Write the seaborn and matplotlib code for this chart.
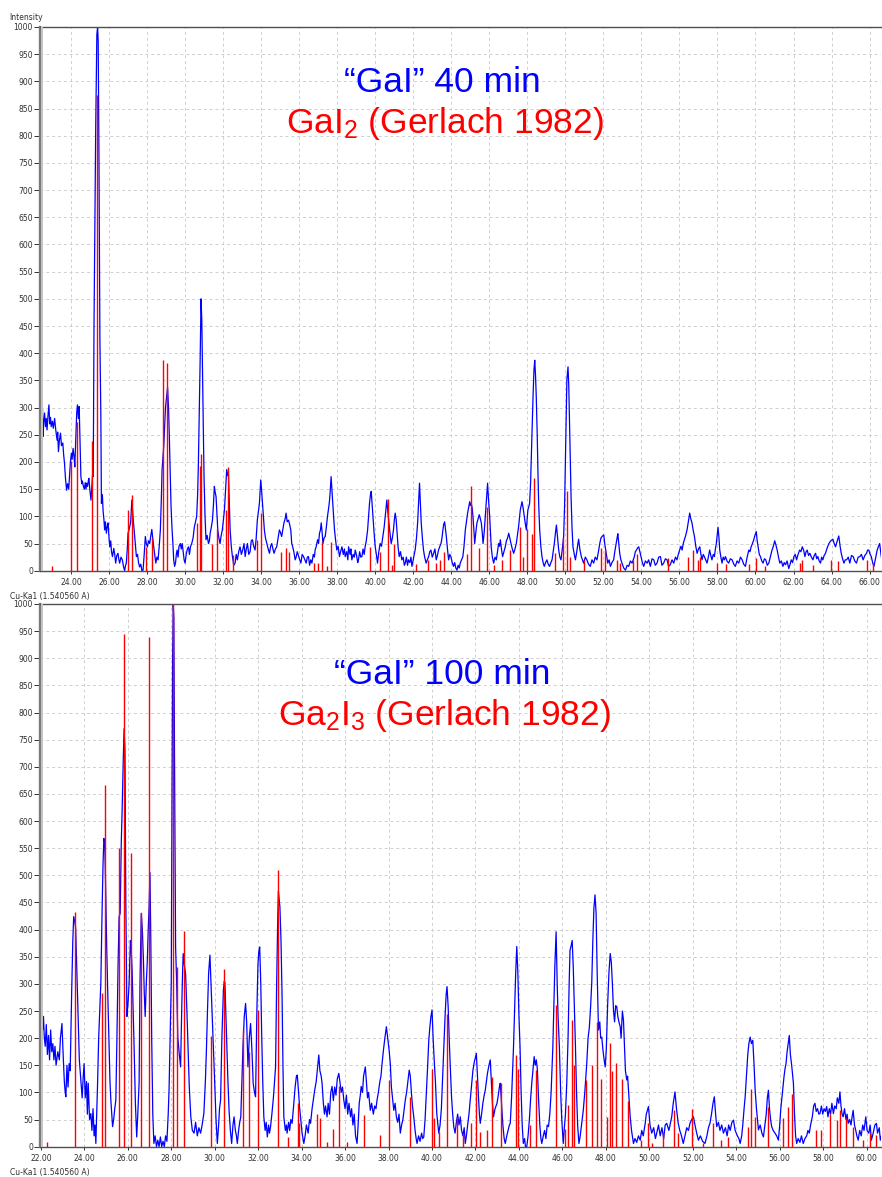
import numpy as np
import pandas as pd
import matplotlib
matplotlib.use("Agg")
import matplotlib.pyplot as plt
from matplotlib.patches import Rectangle
import seaborn as sns

sns.set_style("white")
plt.rcParams["font.family"] = ["DejaVu Sans"]
plt.rcParams["mathtext.fontset"] = "custom"
plt.rcParams["mathtext.rm"] = "Liberation Sans"
plt.rcParams["mathtext.default"] = "regular"

# ---------------------------------------------------------------------------
# Measured powder pattern, "GaI" after 40 min: (2-theta, counts)
# ---------------------------------------------------------------------------
scan40_a = [(22.38, 300), (22.40, 320), (22.45, 290), (22.50, 300), (22.53, 247), (22.57, 275),
            (22.61, 290), (22.66, 265), (22.70, 280), (22.74, 259), (22.79, 285), (22.84, 305),
            (22.88, 270), (22.92, 282), (22.96, 265), (23.02, 275), (23.07, 262), (23.14, 280),
            (23.18, 265), (23.22, 253), (23.27, 240), (23.30, 255), (23.34, 219), (23.39, 240),
            (23.45, 253), (23.50, 230), (23.57, 235), (23.61, 215), (23.66, 197), (23.71, 170),
            (23.77, 148), (23.82, 160), (23.88, 150), (23.93, 179), (23.97, 200), (24.02, 216),
            (24.06, 205), (24.11, 225), (24.16, 210), (24.20, 191), (24.25, 240), (24.30, 290),
            (24.34, 305), (24.39, 280), (24.43, 302), (24.48, 230), (24.52, 173), (24.57, 160),
            (24.60, 165), (24.64, 157), (24.70, 150), (24.75, 162), (24.79, 150), (24.82, 161),
            (24.87, 155), (24.91, 165), (24.94, 170), (24.99, 150), (25.05, 130), (25.09, 150),
            (25.13, 175), (25.17, 173), (25.21, 449), (25.26, 643), (25.30, 815), (25.36, 986),
            (25.40, 1000), (25.43, 974), (25.47, 766), (25.52, 425), (25.57, 284), (25.60, 124),
            (25.65, 140), (25.69, 109), (25.73, 95), (25.77, 75), (25.81, 90), (25.86, 69),
            (25.90, 80), (25.95, 88), (26.00, 60)]

scan40_b = [(26.04, 44), (26.09, 55), (26.13, 35), (26.18, 26), (26.25, 41), (26.30, 30),
            (26.35, 14), (26.41, 28), (26.47, 32), (26.52, 20), (26.56, 14), (26.63, 25),
            (26.70, 20), (26.76, 8), (26.82, 0), (26.87, 10), (26.91, 14), (26.96, 40),
            (27.00, 69), (27.05, 75), (27.09, 81), (27.14, 90), (27.20, 130), (27.23, 115),
            (27.26, 100), (27.31, 80), (27.35, 63), (27.40, 45), (27.44, 26), (27.50, 30),
            (27.55, 15), (27.61, 7), (27.67, 12), (27.73, 0), (27.79, 1), (27.85, 30),
            (27.91, 63), (27.96, 50), (28.02, 44), (28.08, 55), (28.14, 50), (28.20, 65),
            (28.25, 76), (28.30, 60), (28.35, 44), (28.40, 30), (28.46, 14), (28.52, 25),
            (28.58, 20), (28.64, 45), (28.70, 75), (28.75, 130), (28.79, 186), (28.84, 210),
            (28.88, 230), (28.93, 270), (28.97, 300), (29.03, 320), (29.08, 337), (29.13, 300),
            (29.17, 250), (29.21, 190), (29.26, 120), (29.31, 80), (29.36, 50), (29.40, 20),
            (29.45, 8), (29.50, 15), (29.54, 30), (29.58, 38), (29.63, 25), (29.68, 45),
            (29.75, 50), (29.80, 40), (29.85, 50), (29.89, 38), (29.95, 20), (30.00, 14),
            (30.06, 30), (30.12, 40), (30.18, 44), (30.23, 30), (30.29, 45), (30.35, 50),
            (30.42, 60), (30.49, 81), (30.55, 90), (30.61, 100), (30.66, 140), (30.70, 197),
            (30.75, 300), (30.79, 382), (30.84, 500), (30.88, 460), (30.91, 382), (30.96, 260),
            (31.00, 167), (31.05, 100), (31.10, 57)]

scan40_c = [(31.16, 65), (31.23, 50), (31.28, 55), (31.32, 69), (31.38, 80), (31.44, 93),
            (31.49, 120), (31.54, 155), (31.58, 145), (31.63, 136), (31.68, 100), (31.72, 75),
            (31.78, 60), (31.84, 50), (31.90, 65), (31.96, 75), (32.02, 95), (32.07, 112),
            (32.13, 150), (32.19, 186), (32.24, 175), (32.28, 180), (32.33, 120), (32.37, 75),
            (32.43, 45), (32.49, 26), (32.56, 10), (32.63, 14), (32.69, 30), (32.75, 20),
            (32.82, 35), (32.89, 44), (32.96, 30), (33.03, 38), (33.10, 50), (33.16, 26),
            (33.22, 40), (33.28, 50), (33.35, 30), (33.42, 35), (33.48, 55), (33.54, 57),
            (33.61, 45), (33.68, 38), (33.74, 60), (33.80, 93), (33.86, 110), (33.91, 124),
            (33.98, 167), (34.02, 150), (34.07, 124), (34.12, 100), (34.17, 75), (34.23, 60),
            (34.30, 50), (34.37, 40), (34.44, 32), (34.50, 45), (34.56, 50), (34.62, 40),
            (34.68, 32), (34.75, 40), (34.82, 44), (34.89, 60), (34.96, 75), (35.02, 70),
            (35.08, 63), (35.14, 75), (35.20, 88), (35.26, 95), (35.31, 106), (35.37, 90),
            (35.44, 93), (35.50, 85), (35.56, 75), (35.61, 50), (35.66, 44), (35.72, 35),
            (35.79, 20), (35.84, 25), (35.90, 35), (35.96, 28)]

scan40_d = [(36.03, 20), (36.09, 14), (36.16, 30), (36.23, 26), (36.30, 20), (36.37, 14),
            (36.43, 25), (36.49, 26), (36.55, 10), (36.61, 20), (36.67, 14), (36.74, 30),
            (36.80, 25), (36.84, 38), (36.90, 45), (36.97, 57), (37.02, 50), (37.07, 69),
            (37.12, 75), (37.16, 88), (37.21, 70), (37.25, 50), (37.31, 60), (37.37, 63),
            (37.43, 80), (37.49, 100), (37.55, 115), (37.60, 130), (37.64, 150), (37.68, 173),
            (37.72, 150), (37.77, 118), (37.82, 95), (37.86, 75), (37.92, 55), (37.98, 38),
            (38.05, 45), (38.12, 26), (38.18, 35), (38.25, 44), (38.32, 30), (38.38, 40),
            (38.42, 26), (38.50, 35), (38.56, 20), (38.60, 44), (38.68, 30), (38.72, 40),
            (38.77, 20), (38.84, 30), (38.90, 25), (38.95, 38), (39.02, 28), (39.08, 15),
            (39.12, 20), (39.18, 35), (39.24, 25), (39.30, 26), (39.36, 40), (39.42, 30),
            (39.47, 44), (39.53, 55), (39.60, 75), (39.65, 100), (39.70, 124), (39.75, 140),
            (39.79, 146), (39.84, 120), (39.88, 100), (39.94, 70), (40.00, 44), (40.06, 30),
            (40.12, 14), (40.19, 35), (40.26, 50), (40.33, 45), (40.40, 63), (40.47, 80),
            (40.53, 100), (40.57, 115), (40.61, 130), (40.66, 110), (40.70, 95), (40.74, 81),
            (40.79, 65), (40.84, 50), (40.90, 60), (40.96, 75), (41.01, 95), (41.05, 106),
            (41.10, 95), (41.14, 75), (41.20, 45), (41.26, 26), (41.33, 35), (41.40, 20),
            (41.47, 25), (41.53, 10), (41.58, 14), (41.64, 25), (41.70, 10), (41.75, 20),
            (41.82, 15), (41.88, 25), (41.93, 8), (42.00, 20), (42.05, 30), (42.10, 38),
            (42.17, 60), (42.23, 88), (42.28, 125), (42.33, 161), (42.38, 120), (42.42, 88),
            (42.48, 60), (42.54, 38), (42.60, 25), (42.68, 14), (42.74, 20), (42.81, 26),
            (42.87, 35), (42.93, 38), (43.00, 25), (43.07, 32), (43.14, 40), (43.21, 20),
            (43.27, 28), (43.33, 38), (43.40, 45), (43.46, 50), (43.51, 60), (43.56, 75),
            (43.60, 85), (43.65, 90), (43.70, 75), (43.74, 63), (43.80, 40), (43.86, 20),
            (43.92, 30), (43.98, 26)]

scan40_e = [(44.05, 15), (44.12, 8), (44.18, 15), (44.24, 5), (44.30, 1), (44.36, 10),
            (44.42, 5), (44.47, 14), (44.54, 20), (44.61, 26), (44.67, 45), (44.74, 75),
            (44.80, 90), (44.86, 106), (44.92, 118), (44.97, 127), (45.01, 120), (45.05, 124),
            (45.10, 115), (45.14, 100), (45.19, 75), (45.23, 50), (45.29, 70), (45.35, 88),
            (45.41, 95), (45.47, 103), (45.52, 97), (45.58, 88), (45.63, 70), (45.67, 50),
            (45.73, 70), (45.79, 100), (45.85, 130), (45.91, 161), (45.96, 130), (46.02, 100),
            (46.06, 70), (46.10, 44), (46.16, 25), (46.23, 14), (46.30, 25), (46.37, 20),
            (46.43, 35), (46.49, 50), (46.54, 45), (46.58, 57), (46.64, 40), (46.70, 26),
            (46.77, 35), (46.84, 44), (46.90, 55), (46.96, 60), (47.02, 69), (47.08, 60),
            (47.14, 50), (47.21, 40), (47.28, 32), (47.35, 40), (47.42, 50), (47.48, 65),
            (47.54, 81), (47.58, 95), (47.63, 112), (47.68, 120), (47.72, 127), (47.78, 115),
            (47.84, 100), (47.90, 85), (47.95, 75), (47.99, 95), (48.03, 112), (48.08, 118),
            (48.12, 124), (48.17, 160), (48.21, 210), (48.26, 270), (48.30, 320), (48.35, 370),
            (48.39, 387), (48.43, 360), (48.47, 320), (48.52, 250), (48.56, 179), (48.60, 120),
            (48.65, 75), (48.71, 45), (48.77, 26), (48.83, 15), (48.89, 8), (48.96, 15),
            (49.03, 20), (49.10, 12), (49.17, 8), (49.24, 15), (49.30, 20), (49.36, 35),
            (49.42, 50), (49.48, 70), (49.53, 84), (49.59, 60), (49.65, 38), (49.71, 25),
            (49.77, 20), (49.84, 40), (49.91, 63), (49.96, 120), (50.00, 197), (50.04, 280),
            (50.08, 351), (50.14, 375), (50.18, 340), (50.21, 290), (50.26, 210), (50.30, 136),
            (50.35, 80), (50.40, 44), (50.47, 30), (50.53, 20), (50.60, 35), (50.66, 50),
            (50.70, 58), (50.76, 40), (50.84, 26), (50.90, 20), (50.96, 14)]

scan40_f = [(51.05, 25), (51.13, 20), (51.22, 12), (51.31, 8), (51.40, 20), (51.49, 14),
            (51.57, 25), (51.66, 20), (51.74, 35), (51.81, 50), (51.87, 60), (51.93, 63),
            (52.02, 66), (52.07, 50), (52.12, 38), (52.18, 25), (52.23, 14), (52.30, 20),
            (52.37, 8), (52.45, 15), (52.54, 20), (52.60, 35), (52.67, 50), (52.72, 60),
            (52.76, 68), (52.81, 50), (52.86, 32), (52.92, 20), (52.98, 14), (53.07, 5),
            (53.16, 1), (53.25, 10), (53.33, 8), (53.42, 18), (53.51, 14), (53.57, 20),
            (53.63, 26), (53.68, 35), (53.74, 38), (53.80, 42), (53.86, 44), (53.92, 35),
            (53.98, 26), (54.05, 15), (54.12, 8), (54.21, 18), (54.30, 14), (54.38, 20),
            (54.47, 8), (54.56, 22), (54.65, 20), (54.73, 10), (54.82, 14), (54.91, 25),
            (55.00, 26), (55.08, 10), (55.17, 14), (55.26, 22), (55.35, 20), (55.43, 8),
            (55.52, 11), (55.61, 20), (55.70, 14), (55.79, 25), (55.87, 20), (55.94, 30),
            (56.01, 38), (56.08, 45), (56.14, 38), (56.20, 50), (56.26, 57), (56.33, 65),
            (56.40, 75), (56.47, 90), (56.54, 106), (56.60, 95), (56.66, 88), (56.72, 75),
            (56.79, 63), (56.86, 45), (56.93, 32), (57.00, 40), (57.07, 44), (57.13, 30),
            (57.19, 20), (57.25, 30), (57.31, 26), (57.38, 20), (57.45, 14), (57.52, 25),
            (57.59, 38), (57.65, 28), (57.71, 20), (57.78, 30), (57.84, 26), (57.89, 40),
            (57.94, 50), (58.03, 80), (58.08, 60), (58.12, 38), (58.18, 25), (58.24, 14),
            (58.30, 25), (58.36, 20), (58.42, 26), (58.50, 18)]

scan40_g = [(58.59, 14), (58.68, 22), (58.77, 20), (58.86, 12), (58.94, 8), (59.03, 18),
            (59.12, 14), (59.21, 25), (59.30, 20), (59.38, 12), (59.47, 8), (59.56, 25),
            (59.65, 38), (59.71, 35), (59.77, 44), (59.84, 50), (59.91, 57), (59.97, 65),
            (60.04, 72), (60.09, 55), (60.14, 44), (60.20, 30), (60.26, 26), (60.33, 18),
            (60.40, 14), (60.47, 22), (60.54, 20), (60.62, 10), (60.70, 14), (60.78, 25),
            (60.87, 38), (60.94, 45), (61.01, 55), (61.07, 48), (61.14, 38), (61.21, 25),
            (61.28, 14), (61.36, 18), (61.44, 8), (61.51, 15), (61.58, 11), (61.66, 18),
            (61.75, 4), (61.82, 12), (61.88, 20), (61.95, 15), (62.02, 26), (62.09, 30),
            (62.16, 20), (62.24, 30), (62.32, 38), (62.39, 35), (62.46, 44), (62.53, 38),
            (62.60, 26), (62.66, 35), (62.72, 38), (62.79, 28), (62.86, 32), (62.94, 25),
            (63.02, 20), (63.09, 28), (63.16, 32), (63.22, 22), (63.28, 26), (63.35, 18),
            (63.42, 14), (63.48, 25), (63.54, 20), (63.61, 28), (63.68, 32), (63.77, 42),
            (63.86, 50), (63.96, 55), (64.07, 58), (64.14, 50), (64.21, 44), (64.30, 55),
            (64.38, 64), (64.45, 45), (64.51, 32), (64.58, 22), (64.65, 14), (64.72, 20),
            (64.79, 20), (64.88, 25), (64.96, 14), (65.05, 28), (65.14, 26), (65.22, 18),
            (65.31, 14), (65.40, 25), (65.49, 26), (65.57, 30), (65.66, 20), (65.75, 28),
            (65.84, 32), (65.90, 38), (65.96, 38), (66.03, 30), (66.09, 26), (66.16, 15),
            (66.23, 8), (66.31, 22), (66.40, 38), (66.47, 45), (66.53, 50), (66.60, 30),
            (66.67, 14)]

# Reference line pattern of GaI2 (Gerlach 1982): (2-theta, relative intensity)
gai2_lines = [(22.98, 9), (24.00, 201), (24.30, 274), (25.09, 238), (25.35, 875), (27.00, 112),
              (27.20, 139), (27.95, 44), (28.25, 60), (28.86, 388), (29.07, 382), (30.61, 87),
              (30.79, 192), (30.86, 215), (31.44, 50), (31.67, 77), (32.15, 112), (32.24, 190),
              (32.50, 29), (33.80, 57), (34.00, 107), (35.05, 35), (35.31, 41), (35.49, 35),
              (36.79, 14), (37.00, 14), (37.20, 53), (37.46, 8), (37.67, 52), (39.74, 44),
              (40.23, 35), (40.65, 131), (40.88, 11), (41.00, 50), (42.16, 12), (42.80, 20),
              (43.20, 14), (43.40, 20), (43.63, 35), (44.83, 31), (45.04, 156), (45.44, 41),
              (45.88, 118), (46.23, 11), (46.67, 20), (47.07, 38), (47.63, 81), (47.77, 25),
              (47.98, 77), (48.24, 68), (48.37, 171), (49.47, 32), (49.90, 60), (50.07, 147),
              (50.25, 25), (50.98, 20), (51.88, 41), (52.10, 38), (52.69, 20), (52.86, 14),
              (53.57, 20), (53.77, 31), (55.38, 23), (56.44, 25), (56.70, 38), (56.97, 20),
              (57.10, 25), (58.00, 14), (58.45, 13), (59.64, 12), (60.05, 23), (60.49, 8),
              (62.33, 14), (62.47, 20), (63.02, 11), (63.95, 20), (64.33, 17), (65.88, 20),
              (66.20, 14)]

# ---------------------------------------------------------------------------
# Measured powder pattern, "GaI" after 100 min: (2-theta, counts)
# ---------------------------------------------------------------------------
scan100_a = [(21.97, 380), (21.99, 378), (22.01, 290), (22.04, 250), (22.08, 215), (22.12, 240),
             (22.16, 200), (22.20, 185), (22.25, 225), (22.30, 170), (22.35, 205), (22.40, 160),
             (22.45, 215), (22.50, 175), (22.55, 190), (22.60, 160), (22.65, 185), (22.70, 150),
             (22.78, 175), (22.85, 160), (22.90, 200), (22.97, 227), (23.03, 165), (23.08, 120),
             (23.12, 100), (23.15, 92), (23.20, 150), (23.25, 110), (23.30, 153), (23.35, 140),
             (23.42, 290), (23.47, 380), (23.51, 424), (23.56, 415), (23.60, 403), (23.65, 330),
             (23.71, 240), (23.77, 160), (23.84, 123), (23.90, 90), (23.95, 130), (23.99, 153),
             (24.04, 90), (24.10, 120), (24.14, 60), (24.18, 117), (24.24, 50), (24.30, 61),
             (24.35, 30), (24.40, 70), (24.45, 20), (24.49, 40), (24.53, 6), (24.57, 60),
             (24.61, 117), (24.66, 200), (24.71, 250), (24.76, 302), (24.81, 420), (24.86, 520),
             (24.90, 568), (24.94, 560), (24.98, 480), (25.03, 368), (25.08, 280), (25.14, 184),
             (25.18, 120), (25.22, 86), (25.26, 60), (25.30, 37), (25.35, 50), (25.40, 70),
             (25.45, 86), (25.50, 200), (25.55, 330), (25.60, 424), (25.65, 430), (25.70, 560),
             (25.74, 620), (25.79, 710), (25.83, 770), (25.87, 730), (25.91, 450), (25.96, 240),
             (26.01, 264), (26.06, 300), (26.12, 380), (26.16, 360), (26.20, 324), (26.25, 250),
             (26.29, 184), (26.35, 80), (26.41, 18), (26.46, 60), (26.52, 117), (26.56, 300),
             (26.62, 430), (26.67, 400), (26.72, 344), (26.76, 280), (26.80, 240), (26.85, 300),
             (26.90, 344), (26.94, 400), (26.98, 442), (27.02, 505), (27.06, 380), (27.10, 200),
             (27.15, 60), (27.20, 6), (27.26, 20), (27.32, 0), (27.38, 12), (27.44, 0),
             (27.50, 18), (27.56, 0), (27.62, 10), (27.68, 0), (27.74, 20), (27.80, 10),
             (27.86, 60), (27.90, 107), (27.95, 200), (28.00, 302), (28.03, 600), (28.06, 885),
             (28.09, 1000), (28.12, 975), (28.15, 722), (28.20, 368), (28.25, 300), (28.30, 202),
             (28.36, 175), (28.43, 147), (28.48, 250), (28.52, 320), (28.55, 356), (28.60, 335),
             (28.66, 319), (28.72, 250), (28.77, 184), (28.83, 110), (28.90, 55), (28.97, 30)]

scan100_b = [(29.05, 25), (29.12, 45), (29.20, 20), (29.27, 35), (29.35, 25), (29.42, 40),
             (29.50, 61), (29.57, 120), (29.62, 180), (29.66, 240), (29.72, 320), (29.78, 353),
             (29.83, 300), (29.89, 240), (29.95, 170), (30.00, 117), (30.06, 50), (30.12, 6),
             (30.18, 40), (30.22, 70), (30.27, 86), (30.33, 200), (30.40, 289), (30.44, 305),
             (30.47, 302), (30.51, 250), (30.55, 202), (30.60, 130), (30.66, 67), (30.72, 30),
             (30.78, 6), (30.84, 40), (30.89, 55), (30.95, 30), (31.00, 20), (31.04, 6),
             (31.10, 30), (31.15, 45), (31.20, 55), (31.25, 120), (31.30, 184), (31.36, 240),
             (31.42, 264), (31.47, 230), (31.53, 147), (31.59, 200), (31.65, 227), (31.71, 180),
             (31.77, 117), (31.83, 100), (31.88, 92), (31.94, 250), (31.99, 336), (32.03, 360),
             (32.07, 368), (32.12, 300), (32.16, 209), (32.21, 120), (32.26, 55), (32.32, 30),
             (32.37, 45), (32.42, 18), (32.48, 40), (32.52, 25), (32.57, 37), (32.63, 60),
             (32.70, 90), (32.75, 120), (32.80, 147), (32.85, 300), (32.90, 420), (32.93, 471),
             (32.97, 455), (33.00, 442), (33.05, 380), (33.10, 276), (33.14, 150), (33.18, 55),
             (33.25, 30), (33.30, 40), (33.33, 25), (33.40, 45), (33.45, 30), (33.50, 50),
             (33.56, 43), (33.62, 70), (33.70, 110), (33.76, 130), (33.80, 132), (33.86, 100),
             (33.90, 75), (33.95, 55), (34.02, 25), (34.10, 6), (34.16, 20), (34.22, 40),
             (34.30, 25), (34.36, 50), (34.41, 43), (34.48, 70), (34.55, 90), (34.60, 104),
             (34.67, 120), (34.72, 140), (34.79, 169), (34.84, 140), (34.90, 130), (34.94, 117),
             (35.00, 80), (35.05, 60), (35.10, 75), (35.17, 55), (35.22, 80), (35.28, 60),
             (35.34, 100), (35.40, 111), (35.46, 85), (35.52, 110), (35.58, 95), (35.64, 125),
             (35.71, 135), (35.76, 120), (35.82, 100), (35.88, 110), (35.94, 86)]

scan100_c = [(36.00, 70), (36.06, 95), (36.12, 60), (36.18, 80), (36.25, 55), (36.30, 70),
             (36.36, 40), (36.42, 60), (36.48, 20), (36.55, 6), (36.60, 40), (36.65, 80),
             (36.70, 95), (36.74, 111), (36.80, 100), (36.85, 130), (36.93, 147), (36.98, 120),
             (37.03, 90), (37.08, 100), (37.16, 67), (37.22, 80), (37.30, 60), (37.36, 75),
             (37.42, 70), (37.47, 86), (37.53, 100), (37.60, 120), (37.65, 130), (37.70, 153),
             (37.77, 180), (37.83, 200), (37.90, 221), (37.96, 200), (38.02, 180), (38.08, 153),
             (38.13, 110), (38.18, 90), (38.24, 67), (38.30, 80), (38.36, 55), (38.42, 45),
             (38.48, 60), (38.54, 25), (38.60, 40), (38.66, 50), (38.72, 70), (38.77, 86),
             (38.83, 100), (38.89, 120), (38.95, 141), (39.00, 130), (39.05, 100), (39.10, 75),
             (39.16, 55), (39.22, 30), (39.27, 15), (39.31, 6), (39.38, 20), (39.45, 10),
             (39.52, 25), (39.57, 15), (39.62, 18), (39.68, 50), (39.74, 100), (39.80, 150),
             (39.85, 196), (39.90, 220), (39.95, 240), (40.00, 252), (40.05, 200), (40.10, 160),
             (40.16, 117), (40.22, 60), (40.27, 40), (40.31, 25), (40.37, 40), (40.43, 70),
             (40.48, 120), (40.54, 184), (40.60, 240), (40.65, 280), (40.69, 295), (40.74, 260),
             (40.79, 200), (40.84, 147), (40.90, 90), (40.95, 60), (41.00, 37), (41.06, 25),
             (41.12, 45), (41.18, 60), (41.24, 40), (41.30, 55), (41.36, 30), (41.42, 20),
             (41.48, 35), (41.53, 6), (41.58, 20), (41.64, 40), (41.70, 60), (41.76, 86),
             (41.82, 110), (41.88, 140), (41.94, 155), (42.00, 165), (42.04, 172), (42.09, 130),
             (42.14, 90), (42.18, 60), (42.22, 43), (42.28, 60), (42.34, 80), (42.40, 95),
             (42.45, 104), (42.50, 120), (42.55, 135), (42.62, 150), (42.68, 160), (42.73, 120),
             (42.78, 80), (42.83, 55), (42.90, 70), (42.99, 80), (43.05, 95), (43.10, 110),
             (43.14, 117), (43.20, 80), (43.26, 40), (43.32, 15), (43.37, 6), (43.44, 20),
             (43.50, 30), (43.56, 40), (43.60, 43)]

scan100_d = [(43.66, 90), (43.71, 140), (43.75, 184), (43.80, 250), (43.85, 320), (43.90, 369),
             (43.95, 320), (44.00, 240), (44.05, 184), (44.10, 100), (44.15, 40), (44.20, 6),
             (44.26, 15), (44.30, 0), (44.36, 0), (44.42, 20), (44.48, 50), (44.54, 90),
             (44.59, 117), (44.64, 140), (44.70, 166), (44.75, 150), (44.80, 160), (44.85, 141),
             (44.90, 90), (44.96, 40), (45.01, 15), (45.05, 6), (45.12, 20), (45.18, 30),
             (45.24, 15), (45.30, 40), (45.36, 37), (45.42, 60), (45.48, 100), (45.52, 140),
             (45.56, 184), (45.60, 250), (45.65, 330), (45.71, 396), (45.76, 300), (45.80, 240),
             (45.86, 184), (45.92, 100), (45.97, 50), (46.04, 6), (46.08, 30), (46.14, 60),
             (46.20, 117), (46.26, 200), (46.31, 300), (46.35, 362), (46.40, 370), (46.45, 380),
             (46.50, 330), (46.55, 260), (46.60, 184), (46.65, 100), (46.70, 40), (46.76, 6),
             (46.82, 20), (46.88, 40), (46.96, 67), (47.03, 100), (47.08, 130), (47.12, 153),
             (47.18, 200), (47.24, 220), (47.30, 260), (47.35, 302), (47.40, 380), (47.45, 440),
             (47.50, 464), (47.55, 430), (47.60, 320), (47.66, 215), (47.72, 230), (47.76, 200),
             (47.81, 202), (47.86, 180), (47.92, 160), (47.97, 147), (48.02, 180), (48.08, 260),
             (48.14, 320), (48.20, 356), (48.25, 340), (48.30, 300), (48.35, 252), (48.40, 230),
             (48.45, 260), (48.50, 258), (48.55, 240), (48.60, 230), (48.66, 221), (48.70, 200),
             (48.76, 250), (48.81, 233), (48.86, 180), (48.90, 140), (48.96, 123), (49.00, 130),
             (49.05, 100), (49.12, 55), (49.18, 30), (49.27, 6), (49.34, 15), (49.42, 8),
             (49.50, 20), (49.58, 12), (49.65, 30), (49.72, 20), (49.81, 43), (49.86, 60),
             (49.96, 74), (50.03, 40), (50.11, 25), (50.20, 35), (50.28, 15), (50.34, 25),
             (50.42, 40), (50.50, 20), (50.58, 35), (50.66, 15), (50.73, 40), (50.80, 43),
             (50.90, 30), (51.03, 55), (51.10, 80), (51.18, 101), (51.25, 70), (51.33, 43),
             (51.40, 30), (51.48, 20), (51.56, 6), (51.64, 20), (51.72, 35), (51.80, 30),
             (51.87, 43), (51.95, 50)]

scan100_e = [(52.03, 55), (52.10, 40), (52.18, 25), (52.26, 12), (52.35, 20), (52.45, 10),
             (52.56, 6), (52.65, 20), (52.72, 35), (52.79, 43), (52.86, 60), (52.93, 80),
             (52.99, 92), (53.05, 60), (53.10, 37), (53.18, 45), (53.25, 30), (53.33, 40),
             (53.41, 25), (53.50, 35), (53.58, 20), (53.65, 40), (53.72, 30), (53.80, 45),
             (53.87, 49), (53.95, 30), (54.05, 20), (54.12, 15), (54.18, 6), (54.25, 20),
             (54.30, 40), (54.36, 70), (54.41, 92), (54.47, 130), (54.53, 170), (54.58, 190),
             (54.64, 202), (54.70, 190), (54.76, 196), (54.82, 150), (54.87, 104), (54.93, 70),
             (55.02, 31), (55.10, 40), (55.18, 25), (55.25, 18), (55.32, 40), (55.38, 60),
             (55.43, 90), (55.48, 104), (55.53, 70), (55.58, 50), (55.63, 37), (55.70, 30),
             (55.78, 25), (55.86, 20), (55.94, 12), (56.00, 40), (56.05, 70), (56.09, 86),
             (56.15, 110), (56.20, 130), (56.25, 145), (56.29, 153), (56.34, 175), (56.39, 190),
             (56.44, 205), (56.49, 170), (56.55, 150), (56.60, 130), (56.63, 117), (56.68, 60),
             (56.73, 20), (56.78, 6), (56.85, 15), (56.93, 8), (57.00, 20), (57.08, 6),
             (57.16, 15), (57.24, 20), (57.30, 30), (57.36, 25), (57.42, 40), (57.50, 55),
             (57.56, 75), (57.62, 80), (57.68, 65), (57.74, 70), (57.80, 60), (57.85, 61),
             (57.92, 75), (57.98, 60), (58.04, 70), (58.10, 65), (58.16, 74), (58.22, 55),
             (58.28, 70), (58.34, 60), (58.40, 80), (58.47, 61), (58.53, 75), (58.60, 70),
             (58.65, 90), (58.72, 80), (58.77, 101), (58.82, 75), (58.87, 60), (58.92, 55),
             (58.98, 70), (59.05, 50), (59.10, 60), (59.15, 43), (59.22, 50), (59.28, 40),
             (59.33, 55), (59.38, 67), (59.44, 40), (59.50, 30), (59.55, 20), (59.61, 12),
             (59.68, 30), (59.75, 20), (59.82, 40), (59.88, 30), (59.96, 55), (60.02, 30),
             (60.10, 25), (60.16, 40), (60.22, 12), (60.30, 25), (60.38, 40), (60.45, 43),
             (60.50, 25), (60.58, 35), (60.63, 12), (60.68, 20)]

# Reference line pattern of Ga2I3 (Gerlach 1982): (2-theta, relative intensity)
ga2i3_lines = [(22.30, 9), (23.56, 433), (24.80, 283), (24.96, 666), (25.60, 550), (25.83, 945),
               (26.17, 542), (26.61, 430), (26.98, 939), (28.10, 1000), (28.25, 332), (28.59, 397),
               (29.82, 204), (30.42, 327), (31.29, 215), (31.58, 175), (31.97, 252), (32.89, 510),
               (33.37, 18), (33.83, 81), (33.90, 43), (34.71, 61), (34.84, 52), (35.17, 8),
               (35.43, 33), (35.71, 111), (36.09, 8), (36.86, 58), (37.62, 21), (38.00, 123),
               (39.00, 92), (40.00, 144), (40.07, 52), (40.31, 28), (40.69, 245), (41.15, 55),
               (41.42, 25), (41.79, 43), (42.04, 123), (42.22, 28), (42.53, 31), (42.76, 129),
               (43.18, 117), (43.87, 169), (43.96, 143), (44.52, 40), (44.80, 141), (45.71, 261),
               (46.14, 33), (46.28, 76), (46.44, 233), (46.54, 151), (47.07, 123), (47.38, 151),
               (47.59, 230), (47.78, 124), (48.07, 55), (48.20, 192), (48.30, 140), (48.46, 155),
               (48.72, 124), (49.00, 84), (49.62, 12), (49.92, 43), (50.11, 6), (50.64, 25),
               (51.15, 67), (51.33, 25), (51.97, 69), (52.48, 6), (52.94, 43), (53.32, 12),
               (53.63, 18), (54.55, 37), (54.70, 106), (54.86, 55), (55.44, 74), (56.13, 52),
               (56.39, 74), (56.57, 98), (57.69, 31), (57.92, 31), (58.30, 61), (58.64, 49),
               (58.76, 67), (59.07, 52), (59.38, 37), (59.81, 12), (60.17, 25), (60.45, 21)]

# Axis ranges and labels
xlim_40 = (22.37, 66.60)
xticks_40 = list(range(24, 67, 2))
xlim_100 = (21.96, 60.66)
xticks_100 = list(range(22, 61, 2))
yticks = list(range(0, 1001, 50))
titles_40 = ("\u201cGaI\u201d 40 min", "GaI$_2$ (Gerlach 1982)")
titles_100 = ("\u201cGaI\u201d 100 min", "Ga$_2$I$_3$ (Gerlach 1982)")
wavelength_label = "Cu-Ka1 (1.540560 A)"

BLUE = "#0000ff"
RED = "#ff0000"
TICK_COLOR = "#303030"


def pattern_panel(ax, chunks, lines, xlim, xticks, titles, title_y):
    scan = pd.DataFrame([p for c in chunks for p in c], columns=["two_theta", "intensity"])
    ref = pd.DataFrame(lines, columns=["two_theta", "intensity"])

    ax.set_xlim(*xlim)
    ax.set_ylim(0, 1000)
    ax.set_xticks(xticks)
    ax.set_xticklabels([f"{t:.2f}" for t in xticks])
    ax.set_yticks(yticks)
    ax.set_yticklabels([str(t) for t in yticks])
    ax.grid(True, color="#cfcfcf", linestyle=(0, (3, 3)), linewidth=0.7)
    ax.set_axisbelow(True)

    sns.lineplot(data=scan, x="two_theta", y="intensity", ax=ax, color=BLUE,
                 linewidth=0.9, sort=False, estimator=None, zorder=2)
    ax.vlines(ref["two_theta"], 0, ref["intensity"], color=RED, linewidth=1.0, zorder=3)

    ax.set_xlabel("")
    ax.set_ylabel("")
    ax.tick_params(axis="y", length=4, width=0.7, pad=1, labelsize=5.5,
                   colors=TICK_COLOR, direction="out", left=True)
    ax.tick_params(axis="x", length=2, width=0.7, pad=3, labelsize=5.5,
                   colors=TICK_COLOR, direction="out", bottom=True)

    for side in ("top", "bottom"):
        ax.spines[side].set_color("#505050")
        ax.spines[side].set_linewidth(1.0)
    ax.spines["right"].set_visible(False)
    ax.spines["left"].set_color("#7a7a7a")
    ax.spines["left"].set_linewidth(1.7)
    ax.add_patch(Rectangle((0.0014, 0), 0.0025, 1, transform=ax.transAxes,
                           facecolor="#c4c4c4", edgecolor="none", zorder=4))

    ax.text(0.478, title_y[0], titles[0], transform=ax.transAxes, ha="center",
            va="baseline", color=BLUE, fontsize=25.5, family="Liberation Sans", zorder=5)
    ax.text(0.481, title_y[1], titles[1], transform=ax.transAxes, ha="center",
            va="baseline", color=RED, fontsize=25.5, family="Liberation Sans", zorder=5)


fig = plt.figure(figsize=(8.82, 11.77), dpi=100)
ax_top = fig.add_axes([0.04535, 0.5151, 0.9535, 0.4620])
ax_bot = fig.add_axes([0.04535, 0.02574, 0.9535, 0.4611])

pattern_panel(ax_top, [scan40_a, scan40_b, scan40_c, scan40_d, scan40_e, scan40_f, scan40_g],
              gai2_lines, xlim_40, xticks_40, titles_40, (0.881, 0.8045))
pattern_panel(ax_bot, [scan100_a, scan100_b, scan100_c, scan100_d, scan100_e],
              ga2i3_lines, xlim_100, xticks_100, titles_100, (0.852, 0.777))

fig.text(9 / 882, 1 - 17 / 1177, "Intensity", fontsize=5.5, color=TICK_COLOR, va="center")
fig.text(10 / 882, 1 - 596 / 1177, wavelength_label, fontsize=5.5, color=TICK_COLOR, va="center")
fig.text(10 / 882, 1 - 1172 / 1177, wavelength_label, fontsize=5.5, color=TICK_COLOR, va="center")

fig.savefig("out.png", dpi=100, facecolor="white")
